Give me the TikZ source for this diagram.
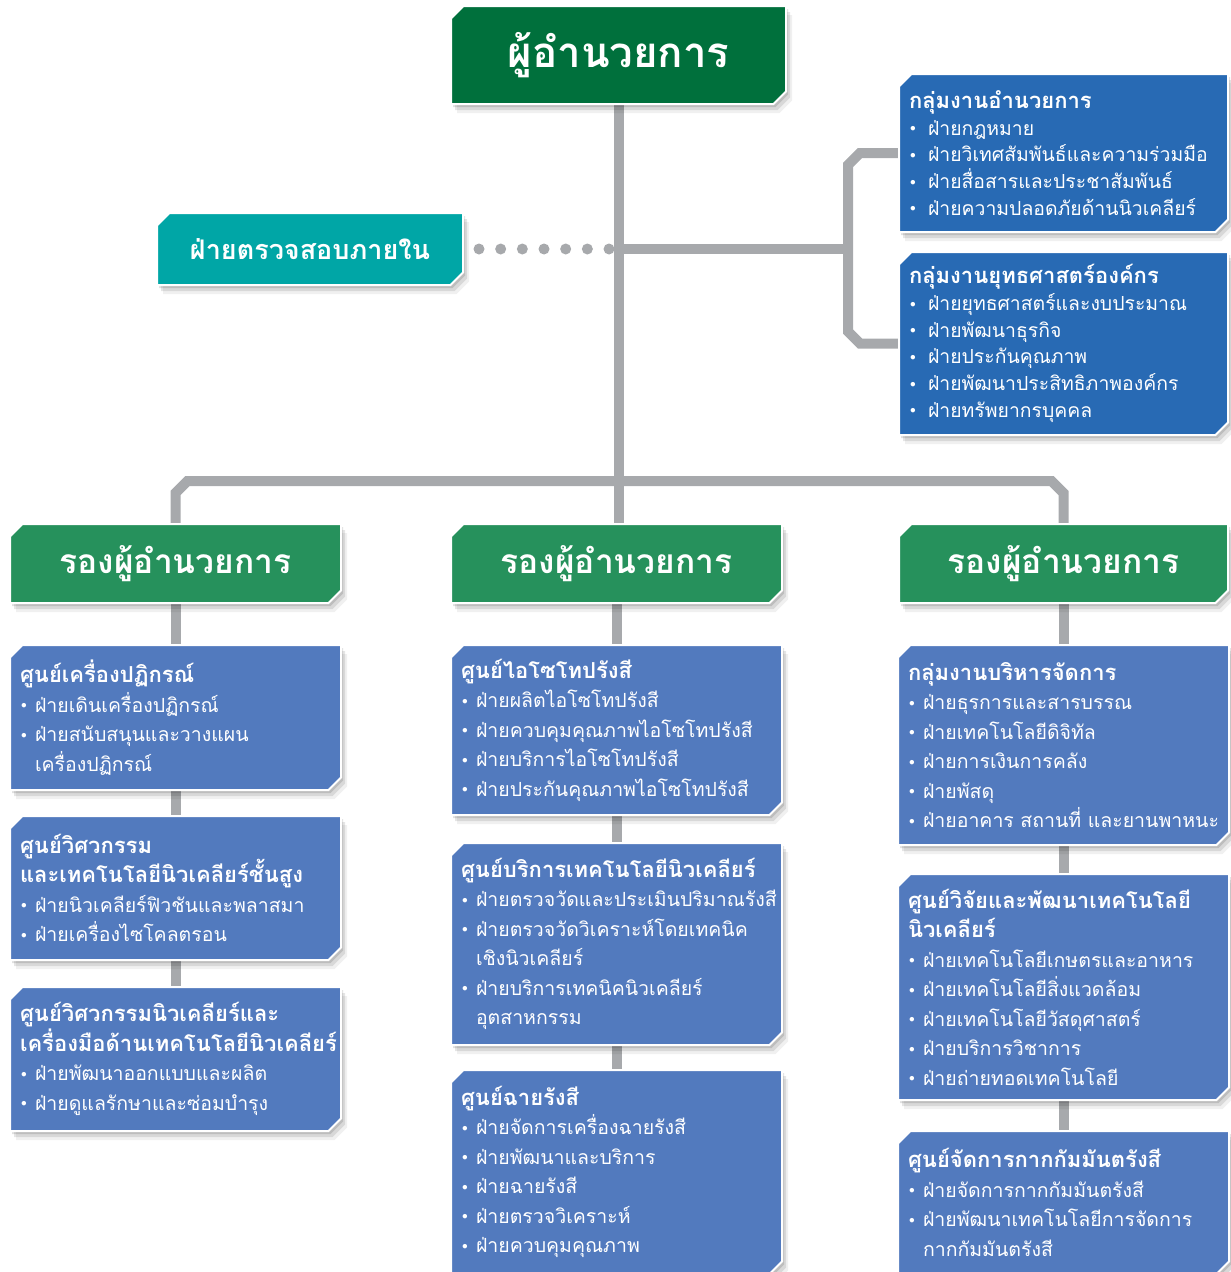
\documentclass[tikz,border=0pt]{standalone}
\usepackage{fontspec}
\setmainfont[Script=Thai]{Loma}
\usetikzlibrary{shapes.misc,shadows,calc,backgrounds}
\definecolor{dirgreen}{HTML}{00703C}
\definecolor{depgreen}{HTML}{26915C}
\definecolor{auditteal}{HTML}{00A6A6}
\definecolor{grpblue}{HTML}{286AB4}
\definecolor{ctrblue}{HTML}{527ABE}
\definecolor{linegray}{HTML}{A7A9AC}
\newlength\bulwd \setlength\bulwd{15pt}
\newcommand\ttl[1]{{\fontsize{22}{29.5}\selectfont\bfseries\mbox{#1}}}
\newcommand\itm[1]{\\\makebox[\bulwd][l]{\hspace{1pt}\raisebox{3.5pt}{\scalebox{.55}{$\bullet$}}}\mbox{#1}}
\newcommand\cnt[1]{\\\hspace*{\bulwd}\mbox{#1}}
\tikzset{
  unit/.style={chamfered rectangle, chamfered rectangle corners={north west,south east},
    chamfered rectangle xsep=9pt, draw=white, line width=2pt, text=white,
    drop shadow={shadow xshift=2pt, shadow yshift=-3pt, opacity=.12, fill=black},
    drop shadow={shadow xshift=4pt, shadow yshift=-6pt, opacity=.1, fill=black},
    drop shadow={shadow xshift=6pt, shadow yshift=-9pt, opacity=.06, fill=black}},
  headbox/.style={unit, fill=dirgreen, minimum width=335pt, minimum height=98pt,
    font=\fontsize{42}{48}\selectfont\bfseries},
  auditbox/.style={unit, fill=auditteal, minimum width=306pt, minimum height=72pt,
    font=\fontsize{27}{30}\selectfont\bfseries},
  deputy/.style={unit, fill=depgreen, minimum width=331pt, minimum height=79pt,
    font=\fontsize{33.5}{36}\selectfont\bfseries},
  grp/.style={unit, fill=grpblue, minimum width=329pt, text width=309pt, inner xsep=1pt,
    align=left, font=\fontsize{19.4}{26.7}\selectfont\setlength\bulwd{19pt}},
  ctr/.style={unit, fill=ctrblue, minimum width=331pt, text width=311pt, inner xsep=1pt,
    align=left, font=\fontsize{19.5}{29.5}\selectfont},
  conn/.style={draw=linegray, line width=10pt},
  dots/.style={draw=linegray, line width=11pt, line cap=round, dash pattern=on 0pt off 21.67pt}
}
\begin{document}
\begin{tikzpicture}[x=1pt,y=-1pt]
\useasboundingbox (0,0) rectangle (1231,1272);

% top level
\node[headbox] (dir) at (618.5,55) {ผู้อำนวยการ};
\node[auditbox] (audit) at (310,249) {ฝ่ายตรวจสอบภายใน};
\node[grp, minimum height=158pt] (grpA) at (1063.5,153) {\ttl{กลุ่มงานอำนวยการ}
  \itm{ฝ่ายกฎหมาย}
  \itm{ฝ่ายวิเทศสัมพันธ์และความร่วมมือ}
  \itm{ฝ่ายสื่อสารและประชาสัมพันธ์}
  \itm{ฝ่ายความปลอดภัยด้านนิวเคลียร์}};
\node[grp, minimum height=183pt] (grpB) at (1063.5,343.5) {\ttl{กลุ่มงานยุทธศาสตร์องค์กร}
  \itm{ฝ่ายยุทธศาสตร์และงบประมาณ}
  \itm{ฝ่ายพัฒนาธุรกิจ}
  \itm{ฝ่ายประกันคุณภาพ}
  \itm{ฝ่ายพัฒนาประสิทธิภาพองค์กร}
  \itm{ฝ่ายทรัพยากรบุคคล}};

% deputies
\node[deputy] (depA) at (175.5,563.5) {รองผู้อำนวยการ};
\node[deputy] (depB) at (616.5,563.5) {รองผู้อำนวยการ};
\node[deputy, minimum width=329pt] (depC) at (1063.5,563.5) {รองผู้อำนวยการ};

% left column
\node[ctr, minimum height=145pt] (ctrA) at (175.5,717.5) {\ttl{ศูนย์เครื่องปฏิกรณ์}
  \itm{ฝ่ายเดินเครื่องปฏิกรณ์}
  \itm{ฝ่ายสนับสนุนและวางแผน}
  \cnt{เครื่องปฏิกรณ์}};
\node[ctr, minimum height=144pt] (ctrB) at (175.5,888) {\ttl{ศูนย์วิศวกรรม}\\\ttl{และเทคโนโลยีนิวเคลียร์ชั้นสูง}
  \itm{ฝ่ายนิวเคลียร์ฟิวชันและพลาสมา}
  \itm{ฝ่ายเครื่องไซโคลตรอน}};
\node[ctr, minimum height=144pt] (ctrC) at (175.5,1059) {\ttl{ศูนย์วิศวกรรมนิวเคลียร์และ}\\\ttl{เครื่องมือด้านเทคโนโลยีนิวเคลียร์}
  \itm{ฝ่ายพัฒนาออกแบบและผลิต}
  \itm{ฝ่ายดูแลรักษาและซ่อมบำรุง}};

% middle column
\node[ctr, minimum height=170pt] (ctrD) at (616.5,730) {\ttl{ศูนย์ไอโซโทปรังสี}
  \itm{ฝ่ายผลิตไอโซโทปรังสี}
  \itm{ฝ่ายควบคุมคุณภาพไอโซโทปรังสี}
  \itm{ฝ่ายบริการไอโซโทปรังสี}
  \itm{ฝ่ายประกันคุณภาพไอโซโทปรังสี}};
\node[ctr, minimum height=202pt] (ctrE) at (616.5,944) {\ttl{ศูนย์บริการเทคโนโลยีนิวเคลียร์}
  \itm{ฝ่ายตรวจวัดและประเมินปริมาณรังสี}
  \itm{ฝ่ายตรวจวัดวิเคราะห์โดยเทคนิค}
  \cnt{เชิงนิวเคลียร์}
  \itm{ฝ่ายบริการเทคนิคนิวเคลียร์}
  \cnt{อุตสาหกรรม}};
\node[ctr, minimum height=204pt] (ctrF) at (616.5,1172) {\ttl{ศูนย์ฉายรังสี}
  \itm{ฝ่ายจัดการเครื่องฉายรังสี}
  \itm{ฝ่ายพัฒนาและบริการ}
  \itm{ฝ่ายฉายรังสี}
  \itm{ฝ่ายตรวจวิเคราะห์}
  \itm{ฝ่ายควบคุมคุณภาพ}};

% right column
\node[ctr, minimum width=329pt, minimum height=200pt] (ctrG) at (1063.5,745) {\ttl{กลุ่มงานบริหารจัดการ}
  \itm{ฝ่ายธุรการและสารบรรณ}
  \itm{ฝ่ายเทคโนโลยีดิจิทัล}
  \itm{ฝ่ายการเงินการคลัง}
  \itm{ฝ่ายพัสดุ}
  \itm{ฝ่ายอาคาร สถานที่ และยานพาหนะ}};
\node[ctr, minimum width=329pt, minimum height=226pt] (ctrH) at (1063.5,987) {\ttl{ศูนย์วิจัยและพัฒนาเทคโนโลยี}\\\ttl{นิวเคลียร์}
  \itm{ฝ่ายเทคโนโลยีเกษตรและอาหาร}
  \itm{ฝ่ายเทคโนโลยีสิ่งแวดล้อม}
  \itm{ฝ่ายเทคโนโลยีวัสดุศาสตร์}
  \itm{ฝ่ายบริการวิชาการ}
  \itm{ฝ่ายถ่ายทอดเทคโนโลยี}};
\node[ctr, minimum width=329pt, minimum height=143pt] (ctrI) at (1063.5,1202.5) {\ttl{ศูนย์จัดการกากกัมมันตรังสี}
  \itm{ฝ่ายจัดการกากกัมมันตรังสี}
  \itm{ฝ่ายพัฒนาเทคโนโลยีการจัดการ}
  \cnt{กากกัมมันตรังสี}};

% connectors
\begin{scope}[on background layer]
\coordinate (jA) at (dir.south |- audit.east);
\coordinate (brk) at (848,249);
\draw[conn] (dir.south) -- (dir.south |- depB.north);
\draw[dots] ($(audit.east)+(15,0)$) -- (jA);
\draw[conn] (jA) -- (brk);
\draw[conn] (grpA.west) -- ($(grpA.west -| brk)+(12,0)$) -- ++(-12,12)
  -- ($(grpB.west -| brk)+(0,-12)$) -- ++(12,12) -- (grpB.west);
\draw[conn] (depA.north) -- ++(0,-30) -- ++(12,-12)
  -- ($(depC.north)+(-12,-42)$) -- ++(12,12) -- (depC.north);
\foreach \a/\b in {depA/ctrA,ctrA/ctrB,ctrB/ctrC,depB/ctrD,ctrD/ctrE,ctrE/ctrF,depC/ctrG,ctrG/ctrH,ctrH/ctrI}
  \draw[conn] (\a.south) -- (\b.north);
\end{scope}
\end{tikzpicture}
\end{document}
